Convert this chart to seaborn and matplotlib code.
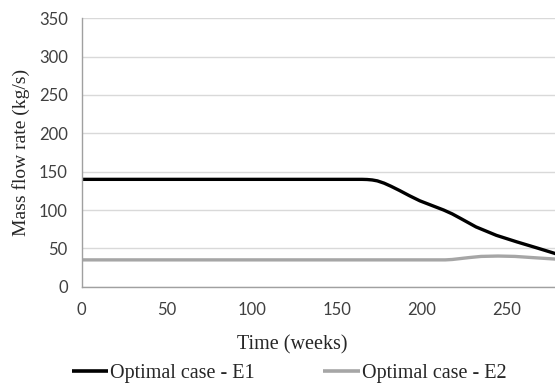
import numpy as np
import pandas as pd
import matplotlib
matplotlib.use("Agg")
import matplotlib.pyplot as plt
import seaborn as sns

# Mass flow rate profiles over time (weeks, kg/s)
weeks_e1 = [0, 165, 168, 171, 174, 178, 182, 187, 193, 199, 206, 213, 218,
            223, 232, 244, 256, 268, 279]
flow_e1 = [140, 140, 139.8, 139.2, 138, 135, 131, 125.5, 118.5, 112, 106, 100,
           95, 89, 78, 67, 58.5, 50.5, 43]
weeks_e2 = [0, 214, 218, 222, 228, 235, 245, 255, 265, 279]
flow_e2 = [35, 35, 35.5, 36.5, 38, 39.5, 40, 39.5, 38, 36]

series_names = ["Optimal case - E1", "Optimal case - E2"]
x_ticks = [0, 50, 100, 150, 200, 250]
y_ticks = [0, 50, 100, 150, 200, 250, 300, 350]

df = pd.concat([
    pd.DataFrame({"Time": weeks_e1, "Flow": flow_e1, "Case": series_names[0]}),
    pd.DataFrame({"Time": weeks_e2, "Flow": flow_e2, "Case": series_names[1]}),
])

sns.set_style("white")
plt.rcParams["font.family"] = ["Liberation Serif", "DejaVu Serif"]

fig = plt.figure(figsize=(5.55, 3.83), dpi=100)
ax = fig.add_axes([0.147, 0.2514, 0.853, 0.7008])

sns.lineplot(data=df, x="Time", y="Flow", hue="Case",
             palette={series_names[0]: "#000000", series_names[1]: "#a6a6a6"},
             linewidth=2.4, ax=ax, estimator=None, sort=True)
for ln in ax.get_lines():
    ln.set_solid_joinstyle("round")
    ln.set_solid_capstyle("butt")

ax.set_xlim(0, 278.5)
ax.set_ylim(0, 350)
ax.set_xticks(x_ticks)
ax.set_yticks(y_ticks)
ax.yaxis.grid(True, color="#d9d9d9", linewidth=1)
ax.set_axisbelow(True)
for s in ["top", "right"]:
    ax.spines[s].set_visible(False)
for s in ["left", "bottom"]:
    ax.spines[s].set_color("#a0a0a0")
    ax.spines[s].set_linewidth(1)
ax.tick_params(axis="both", which="both", direction="out", length=5,
               color="#a0a0a0", width=1, labelsize=12, labelcolor="#404040")
ax.tick_params(axis="x", pad=6)
ax.tick_params(axis="y", pad=5)
for lab in ax.get_xticklabels() + ax.get_yticklabels():
    lab.set_family("Lato")

ax.set_ylabel("Mass flow rate (kg/s)", fontsize=14, labelpad=6)
ax.set_xlabel("")
fig.text(292 / 555, 1 - 345 / 383, "Time (weeks)", fontsize=14.5,
         ha="center", va="center")

leg = ax.get_legend()
if leg is not None:
    leg.remove()
handles, labels = ax.get_legend_handles_labels()
leg = fig.legend(handles, labels, loc="center left",
                 bbox_to_anchor=(72 / 555, 1 - 373 / 383),
                 ncol=2, frameon=False, fontsize=14.5, handlelength=1.8,
                 handletextpad=0.1, columnspacing=3.4, borderaxespad=0,
                 borderpad=0)
for line in leg.get_lines():
    line.set_linewidth(2.6)

fig.savefig("out.png", dpi=100)
